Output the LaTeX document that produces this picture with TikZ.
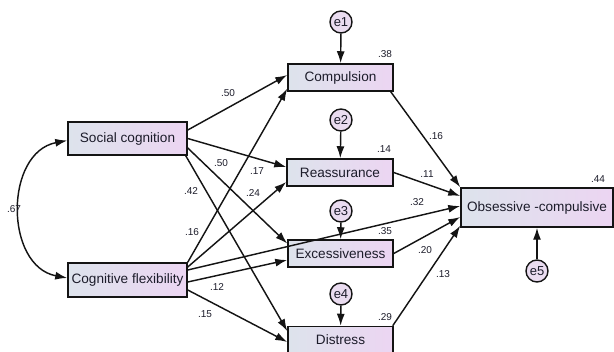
\documentclass[tikz,border=0pt]{standalone}
\usepackage{fontspec}
\setmainfont{Liberation Sans}
\usetikzlibrary{arrows.meta,calc}
\definecolor{boxL}{HTML}{DDE3EC}
\definecolor{boxR}{HTML}{ECD5F2}
\definecolor{errfill}{HTML}{EADCF0}
\definecolor{txt}{HTML}{1C1C2A}
\definecolor{edge}{HTML}{141414}
\tikzset{
  varbox/.style={draw=edge, line width=1.5pt, left color=boxL, right color=boxR,
    inner sep=0pt, text=txt, font=\fontsize{13.6}{16}\selectfont},
  errc/.style={circle, draw=edge, line width=1.4pt, fill=errfill, minimum size=22pt,
    inner sep=0pt, text=txt, font=\fontsize{13}{15}\selectfont},
  path/.style={draw=edge, line width=1.45pt, -{Latex[length=12pt,width=8pt]}},
  cov/.style={draw=edge, line width=1.45pt, {Latex[length=12pt,width=8pt]}-{Latex[length=12pt,width=8pt]}},
  coef/.style={inner sep=0pt, text=txt, font=\fontsize{10}{12}\selectfont}
}
\begin{document}
\begin{tikzpicture}[x=1pt,y=-1pt]
\useasboundingbox (0,0) rectangle (614,352);
% variables
\node[varbox, minimum width=119pt, minimum height=33pt] (SC) at (127.5,138.5) {Social cognition};
\node[varbox, minimum width=119pt, minimum height=34pt] (CF) at (127.5,280) {Cognitive flexibility};
\node[varbox, minimum width=105pt, minimum height=27pt] (Comp) at (340.5,77.5) {Compulsion};
\node[varbox, minimum width=106pt, minimum height=27pt] (Reas) at (340,172.5) {Reassurance};
\node[varbox, minimum width=105pt, minimum height=27pt] (Exc) at (340.5,253.5) {Excessiveness};
\node[varbox, minimum width=105pt, minimum height=27pt] (Dist) at (340.5,340) {Distress};
\node[varbox, minimum width=152pt, minimum height=39pt] (OC) at (537,207.5) {Obsessive -compulsive};
% errors
\node[errc] (e1) at (341,22) {e1};
\node[errc] (e2) at (341,120) {e2};
\node[errc] (e3) at (341,211) {e3};
\node[errc] (e4) at (341,294) {e4};
\node[errc] (e5) at (537,271) {e5};
% error arrows
\draw[path] (e1) -- (Comp);
\draw[path] (e2) -- (Reas);
\draw[path] (e3) -- (Exc);
\draw[path] (e4) -- (Dist);
\draw[path] (e5) -- (OC);
% covariance
\draw[cov] ([yshift=-2pt]SC.west) .. controls +(-63pt,-12pt) and +(-63pt,12pt) .. ([yshift=2pt]CF.west);
% social cognition paths
\draw[path] ([yshift=8.5pt]SC.east) -- ([yshift=2.5pt]Comp.west);
\draw[path] (SC.east) -- ([yshift=5.5pt]Reas.west);
\draw[path] ([yshift=-9.5pt]SC.east) -- ([yshift=10pt]Exc.west);
\draw[path] ([xshift=-2pt]SC.south east) -- ([yshift=9pt]Dist.west);
% cognitive flexibility paths
\draw[path] (CF.north east) -- ([yshift=3pt]Comp.south west);
\draw[path] ([yshift=13pt]CF.east) -- ([yshift=-9.5pt]Reas.west);
\draw[path] ([yshift=10pt]CF.east) -- ([yshift=1.5pt]OC.west);
\draw[path] ([yshift=-2pt]CF.east) -- ([yshift=-6.5pt]Exc.west);
\draw[path] ([yshift=-10pt]CF.east) -- ([yshift=-2pt]Dist.west);
% mediators to outcome
\draw[path] ([xshift=-3pt]Comp.south east) -- (OC.north west);
\draw[path] (Reas.east) -- ([yshift=11.5pt]OC.west);
\draw[path] (Exc.east) -- ([yshift=-9.5pt]OC.west);
\draw[path] ([xshift=-1pt]Dist.north east) -- ([yshift=2pt]OC.south west);
% coefficients
\node[coef] (c67) at (14,209) {.67};
\node[coef] (c50a) at (228,93) {.50};
\node[coef] (c50b) at (221,163) {.50};
\node[coef] (c17) at (257,171) {.17};
\node[coef] (c42) at (191,191) {.42};
\node[coef] (c24) at (253,193) {.24};
\node[coef] (c16a) at (192,232) {.16};
\node[coef] (c12) at (217,287) {.12};
\node[coef] (c15) at (205,314) {.15};
\node[coef] (r38) at (385,54) {.38};
\node[coef] (r14) at (384,149) {.14};
\node[coef] (r35) at (385,231) {.35};
\node[coef] (r29) at (385,317) {.29};
\node[coef] (r44) at (598,179) {.44};
\node[coef] (c16b) at (436,136) {.16};
\node[coef] (c11) at (427,174) {.11};
\node[coef] (c32) at (417,202) {.32};
\node[coef] (c20) at (425,250) {.20};
\node[coef] (c13) at (443,274) {.13};
\end{tikzpicture}
\end{document}
